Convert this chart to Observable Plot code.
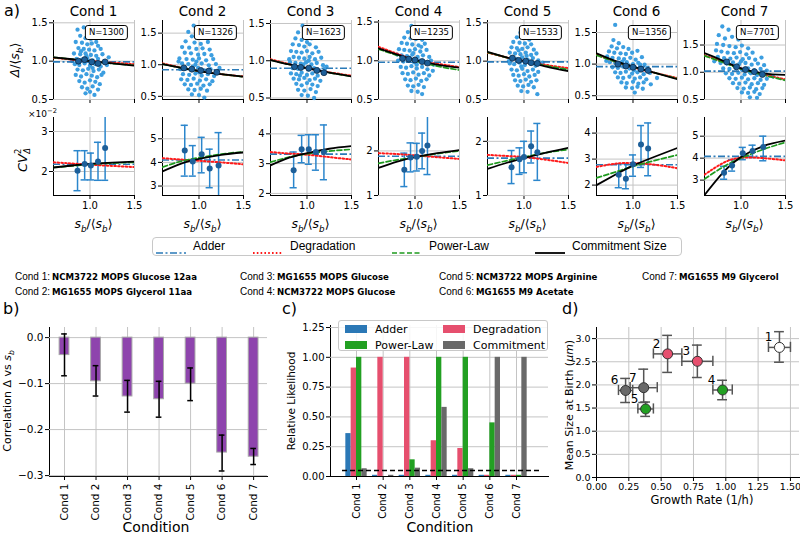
<!DOCTYPE html>
<html><head><meta charset="utf-8">
<script src="https://cdn.jsdelivr.net/npm/d3@7"></script>
<script src="https://cdn.jsdelivr.net/npm/@observablehq/plot@0.6"></script>
<style>
body{margin:0;background:#fff;}
#root{position:relative;width:800px;height:534px;overflow:hidden;font-family:"DejaVu Sans",sans-serif;color:#000;}
.lab{position:absolute;white-space:nowrap;line-height:1;}
</style></head>
<body><div id="root"></div>
<script>
// ---------------- DATA ----------------
const conds = [1,2,3,4,5,6,7];
const nCells = [1300,1326,1623,1235,1533,1356,7701];
const condNames = ["NCM3722 MOPS Glucose 12aa","MG1655 MOPS Glycerol 11aa","MG1655 MOPS Glucose","NCM3722 MOPS Glucose","NCM3722 MOPS Arginine","MG1655 M9 Acetate","MG1655 M9 Glycerol"];
const modelNames = ["Adder","Degradation","Power-Law","Commitment Size"];
const likeNames = ["Adder","Degradation","Power-Law","Commitment"];

// top row: Δ/<s_b> vs s_b/<s_b> (scatter)
const cloud1 = [[0.86,1.41],[0.93,1.44],[0.99,1.38],[1.04,1.35],[0.89,1.33],[0.95,1.30],[1.01,1.29],[1.07,1.31],[0.84,1.25],[0.91,1.24],[0.97,1.22],[1.02,1.23],[1.09,1.20],[0.87,1.17],[0.93,1.16],[0.99,1.15],[1.05,1.14],[1.12,1.16],[0.82,1.10],[0.89,1.09],[0.95,1.10],[1.01,1.08],[1.07,1.07],[1.14,1.09],[0.85,1.03],[0.91,1.02],[0.97,1.04],[1.03,1.01],[1.09,1.03],[1.16,1.00],[0.83,0.96],[0.88,0.95],[0.94,0.97],[1.00,0.94],[1.06,0.96],[1.12,0.93],[1.19,0.95],[0.86,0.89],[0.92,0.88],[0.98,0.90],[1.04,0.87],[1.10,0.89],[1.15,0.85],[0.84,0.82],[0.90,0.80],[0.96,0.83],[1.02,0.81],[1.08,0.79],[1.13,0.82],[0.88,0.74],[0.94,0.72],[1.00,0.75],[1.06,0.73],[1.11,0.70],[0.91,0.66],[0.97,0.64],[1.03,0.67],[1.09,0.63],[0.95,0.58],[1.05,0.56],[1.21,1.05],[0.80,1.00],[0.98,1.00],[0.96,1.07],[1.03,0.91],[0.90,1.13],[1.07,1.25],[1.00,0.60]];
const cloud2 = [[0.94,1.62],[0.88,1.52],[1.01,1.55],[0.92,1.45],[0.98,1.42],[1.06,1.44],[0.85,1.37],[0.95,1.35],[1.02,1.33],[1.10,1.36],[0.81,1.28],[0.89,1.27],[0.97,1.25],[1.04,1.26],[1.12,1.24],[0.84,1.19],[0.91,1.18],[0.99,1.16],[1.06,1.17],[1.14,1.15],[0.78,1.10],[0.86,1.09],[0.93,1.08],[1.00,1.10],[1.08,1.07],[1.16,1.09],[0.81,1.02],[0.88,1.01],[0.96,1.00],[1.03,1.02],[1.11,0.99],[1.19,1.01],[0.79,0.93],[0.85,0.94],[0.92,0.92],[0.99,0.95],[1.06,0.91],[1.13,0.93],[1.21,0.90],[0.82,0.85],[0.89,0.84],[0.96,0.86],[1.03,0.83],[1.10,0.85],[1.17,0.82],[0.80,0.77],[0.87,0.76],[0.94,0.78],[1.01,0.75],[1.08,0.77],[1.15,0.74],[0.84,0.69],[0.91,0.68],[0.98,0.70],[1.05,0.67],[1.12,0.69],[0.88,0.61],[0.95,0.60],[1.02,0.62],[1.09,0.59],[0.92,0.53],[1.00,0.52],[1.06,0.48],[1.23,0.95],[0.77,1.05],[0.97,1.05],[1.00,0.88],[0.93,0.97]];
const cloud3 = [[0.95,1.47],[0.90,1.38],[1.00,1.35],[0.87,1.30],[0.94,1.28],[1.05,1.30],[0.84,1.22],[0.91,1.21],[0.97,1.19],[1.03,1.22],[1.10,1.18],[0.82,1.13],[0.88,1.12],[0.94,1.11],[1.00,1.13],[1.06,1.10],[1.13,1.12],[0.85,1.05],[0.91,1.04],[0.97,1.03],[1.03,1.05],[1.09,1.02],[1.16,1.04],[0.81,0.98],[0.87,0.97],[0.93,0.96],[0.99,0.98],[1.05,0.95],[1.11,0.97],[1.18,0.94],[0.84,0.90],[0.90,0.89],[0.96,0.91],[1.02,0.88],[1.08,0.90],[1.14,0.87],[1.20,0.89],[0.82,0.83],[0.88,0.82],[0.94,0.84],[1.00,0.81],[1.06,0.83],[1.12,0.80],[0.85,0.76],[0.91,0.75],[0.97,0.77],[1.03,0.74],[1.09,0.76],[1.15,0.73],[0.88,0.69],[0.94,0.67],[1.00,0.70],[1.06,0.68],[1.12,0.66],[0.90,0.61],[0.97,0.60],[1.04,0.62],[1.10,0.58],[0.94,0.54],[1.01,0.53],[1.08,0.50],[1.22,0.92],[0.80,1.02],[0.96,0.95],[1.02,1.00],[0.92,0.80],[1.00,1.25]];
const cloud4 = [[0.96,1.45],[1.02,1.42],[0.92,1.37],[0.99,1.36],[1.06,1.34],[0.88,1.30],[0.95,1.29],[1.01,1.28],[1.08,1.27],[0.85,1.23],[0.91,1.22],[0.97,1.21],[1.04,1.20],[1.11,1.22],[0.82,1.15],[0.88,1.14],[0.94,1.13],[1.00,1.15],[1.06,1.12],[1.13,1.14],[0.85,1.07],[0.91,1.06],[0.97,1.08],[1.03,1.05],[1.09,1.07],[1.16,1.05],[0.81,1.00],[0.87,0.99],[0.93,1.01],[0.99,0.98],[1.05,1.00],[1.11,0.98],[1.18,1.00],[0.84,0.92],[0.90,0.91],[0.96,0.93],[1.02,0.90],[1.08,0.92],[1.14,0.89],[0.86,0.84],[0.92,0.83],[0.98,0.85],[1.04,0.82],[1.10,0.84],[1.16,0.81],[0.89,0.76],[0.95,0.75],[1.01,0.77],[1.07,0.74],[1.13,0.76],[0.92,0.68],[0.98,0.67],[1.04,0.69],[1.10,0.66],[0.96,0.61],[1.03,0.60],[1.08,0.57],[1.21,0.95],[0.80,1.08],[0.98,1.10],[1.02,0.95],[0.94,1.04],[1.07,1.18],[1.20,0.87]];
const cloud5 = [[0.96,1.37],[1.03,1.35],[0.92,1.31],[0.99,1.30],[1.06,1.28],[0.88,1.25],[0.95,1.24],[1.01,1.23],[1.08,1.22],[0.86,1.18],[0.92,1.17],[0.98,1.16],[1.04,1.18],[1.11,1.15],[0.84,1.11],[0.90,1.10],[0.96,1.09],[1.02,1.11],[1.08,1.08],[1.14,1.10],[0.86,1.04],[0.92,1.03],[0.98,1.05],[1.04,1.02],[1.10,1.04],[1.16,1.01],[0.84,0.97],[0.89,0.96],[0.95,0.98],[1.01,0.95],[1.07,0.97],[1.13,0.94],[1.19,0.96],[0.86,0.89],[0.92,0.88],[0.98,0.90],[1.04,0.87],[1.10,0.89],[1.16,0.86],[0.88,0.82],[0.94,0.81],[1.00,0.83],[1.06,0.80],[1.12,0.82],[0.90,0.75],[0.96,0.74],[1.02,0.76],[1.08,0.73],[1.14,0.75],[0.93,0.68],[0.99,0.67],[1.05,0.69],[1.11,0.66],[0.97,0.61],[1.04,0.60],[1.15,0.57],[0.83,1.00],[1.21,0.98],[1.00,1.00],[0.97,0.93],[1.03,1.07],[0.94,1.14]];
const cloud6 = [[0.78,1.38],[0.84,1.33],[0.76,1.28],[0.82,1.25],[0.89,1.27],[0.95,1.24],[0.73,1.20],[0.79,1.18],[0.86,1.17],[0.92,1.16],[0.99,1.18],[1.05,1.21],[0.71,1.12],[0.77,1.10],[0.84,1.09],[0.90,1.08],[0.97,1.10],[1.03,1.07],[1.10,1.11],[0.74,1.03],[0.80,1.02],[0.87,1.01],[0.93,1.03],[1.00,1.00],[1.06,1.02],[1.13,0.99],[0.77,0.95],[0.83,0.94],[0.89,0.96],[0.96,0.93],[1.02,0.95],[1.09,0.92],[1.16,0.94],[0.80,0.87],[0.86,0.86],[0.92,0.88],[0.99,0.85],[1.05,0.87],[1.12,0.84],[1.19,0.86],[0.83,0.79],[0.89,0.78],[0.96,0.80],[1.02,0.77],[1.08,0.79],[1.15,0.76],[0.87,0.71],[0.93,0.70],[1.00,0.72],[1.06,0.69],[1.12,0.71],[1.20,0.68],[0.92,0.63],[0.99,0.62],[1.05,0.64],[1.11,0.61],[1.02,0.55],[1.27,0.78],[0.70,1.05],[0.95,0.98],[0.88,1.04],[1.01,0.90],[1.08,0.99],[0.80,1.62]];
const cloud7 = [[0.79,1.84],[0.86,1.78],[0.75,1.68],[0.82,1.62],[0.90,1.65],[0.97,1.60],[0.73,1.52],[0.80,1.50],[0.87,1.48],[0.94,1.46],[1.01,1.49],[1.08,1.44],[0.72,1.40],[0.78,1.38],[0.85,1.36],[0.92,1.35],[0.99,1.37],[1.06,1.33],[1.13,1.36],[0.74,1.28],[0.81,1.26],[0.88,1.25],[0.95,1.27],[1.02,1.24],[1.09,1.26],[1.16,1.23],[1.23,1.27],[0.77,1.17],[0.84,1.16],[0.91,1.18],[0.98,1.15],[1.05,1.17],[1.12,1.14],[1.19,1.16],[1.26,1.13],[0.80,1.07],[0.87,1.06],[0.94,1.08],[1.01,1.05],[1.08,1.07],[1.15,1.04],[1.22,1.06],[1.29,1.03],[0.83,0.98],[0.90,0.97],[0.97,0.99],[1.04,0.96],[1.11,0.98],[1.18,0.95],[1.25,0.97],[1.32,0.94],[0.87,0.89],[0.94,0.88],[1.01,0.90],[1.08,0.87],[1.15,0.89],[1.22,0.86],[1.29,0.88],[0.91,0.80],[0.98,0.79],[1.05,0.81],[1.12,0.78],[1.19,0.80],[1.26,0.77],[0.96,0.71],[1.03,0.70],[1.10,0.72],[1.17,0.69],[1.24,0.71],[1.01,0.63],[1.08,0.62],[1.15,0.64],[1.21,0.60],[1.10,0.54],[1.18,0.53],[1.36,0.92],[0.70,1.20],[1.00,1.20],[1.10,1.00]];
const clouds = [cloud1,cloud2,cloud3,cloud4,cloud5,cloud6,cloud7];

const meansTop = [
  [[0.87,1.00],[0.94,1.02],[1.02,0.99],[1.09,0.97],[1.17,0.99]],
  [[0.83,0.95],[0.92,0.93],[1.02,0.91],[1.11,0.90],[1.20,0.88]],
  [[0.86,0.92],[0.93,0.91],[1.02,0.90],[1.11,0.87],[1.19,0.84]],
  [[0.86,1.03],[0.93,1.02],[1.00,1.01],[1.08,0.99],[1.14,0.97]],
  [[0.87,1.04],[0.94,1.01],[1.02,1.00],[1.08,0.98],[1.15,0.97]],
  [[0.83,1.00],[0.92,0.97],[1.00,0.95],[1.09,0.92],[1.17,0.90]],
  [[0.84,1.19],[0.95,1.10],[1.05,1.05],[1.15,1.01],[1.24,0.96]]
];
const topDomains = [[0.5,1.53],[0.45,1.70],[0.48,1.54],[0.5,1.52],[0.5,1.53],[0.44,1.69],[0.5,1.95]];

// model curves sampled at these s_b/<s_b> values
const modelX = [0.59,0.8,1.0,1.25,1.5];
const topAdder  = [0.99,0.92,0.90,0.98,0.99,0.96,1.02];
const topDeg    = [[1.045,1.02,1.0,0.98,0.96],[1.02,0.955,0.90,0.85,0.815],[1.02,0.955,0.90,0.845,0.80],[1.18,1.09,1.01,0.96,0.92],[1.11,1.05,1.0,0.95,0.91],[1.15,1.04,0.95,0.86,0.78],[1.31,1.19,1.07,0.96,0.87]];
const topPL     = [[1.05,1.025,1.0,0.97,0.945],[1.01,0.95,0.90,0.85,0.81],[1.01,0.95,0.90,0.84,0.79],[1.15,1.07,1.0,0.93,0.88],[1.115,1.05,1.0,0.94,0.89],[1.14,1.04,0.955,0.86,0.77],[1.30,1.18,1.06,0.95,0.85]];
const topCommit = [[1.05,1.025,1.0,0.97,0.94],[1.01,0.95,0.90,0.85,0.81],[1.01,0.95,0.90,0.84,0.79],[1.16,1.08,1.01,0.95,0.91],[1.12,1.05,1.0,0.93,0.87],[1.17,1.05,0.96,0.86,0.76],[1.35,1.21,1.07,0.98,0.95]];

// bottom row: CV^2 (x1e-2) binned [x, y, lo, hi]
const binsBottom = [
  [[0.86,2.02,1.52,2.52],[0.94,2.19,1.79,2.52],[1.01,2.15,1.79,2.46],[1.09,2.25,1.78,2.73],[1.17,2.59,1.78,3.6]],
  [[0.84,4.50,3.42,5.57],[0.93,4.04,3.42,4.71],[1.03,4.35,3.56,5.06],[1.12,3.74,2.93,4.56],[1.22,3.87,2.5,5.26]],
  [[0.85,2.78,2.19,3.39],[0.94,3.48,3.03,3.95],[1.02,3.48,2.98,3.97],[1.10,3.39,2.78,3.97],[1.19,3.39,2.46,4.30]],
  [[0.88,1.58,1.20,1.95],[0.95,1.85,1.53,2.18],[1.02,1.87,1.55,2.17],[1.08,2.00,1.60,2.40],[1.14,2.12,1.47,2.85]],
  [[0.86,1.52,1.22,1.83],[0.95,1.67,1.39,1.88],[1.00,1.71,1.42,2.00],[1.08,1.91,1.60,2.19],[1.15,1.80,1.28,2.33]],
  [[0.84,2.40,1.90,2.82],[0.92,2.24,1.86,2.82],[1.00,2.80,2.34,3.16],[1.09,3.56,2.68,4.29],[1.17,3.41,2.36,4.39]],
  [[0.81,3.34,3.04,3.63],[0.90,3.66,3.41,3.93],[1.02,4.22,3.93,4.49],[1.13,4.32,4.03,4.59],[1.25,4.51,3.88,5.00]]
];
const botDomains = [[1.4,3.35],[2.6,5.9],[1.93,4.55],[1.0,2.75],[1.0,2.44],[1.6,4.6],[2.3,5.85]];
const botTicks = [[2,3],[3,4,5],[2,3,4],[1,2],[1,2],[2,3,4],[3,4,5]];
const botAdder  = [2.18,4.10,3.32,1.88,1.69,2.78,4.08];
const botDeg    = [[2.23,2.20,2.17,2.14,2.11],[4.18,4.12,4.07,4.00,3.92],[3.39,3.34,3.30,3.22,3.14],[1.95,1.93,1.90,1.86,1.82],[1.75,1.73,1.71,1.66,1.60],[2.70,2.82,2.85,2.78,2.65],[3.25,3.78,4.02,4.00,3.90]];
const botPL     = [[2.10,2.14,2.18,2.21,2.23],[3.80,4.05,4.20,4.35,4.45],[3.05,3.22,3.33,3.42,3.48],[1.72,1.80,1.86,1.94,2.00],[1.56,1.64,1.71,1.79,1.85],[2.28,2.50,2.72,2.95,3.16],[3.05,3.60,4.00,4.40,4.72]];
const botCommit = [[2.10,2.15,2.19,2.22,2.25],[3.62,3.95,4.15,4.32,4.42],[2.94,3.20,3.35,3.50,3.59],[1.62,1.76,1.86,1.95,2.02],[1.49,1.60,1.69,1.79,1.88],[2.00,2.40,2.75,3.10,3.43],[2.32,3.35,4.05,4.55,4.80]];

// panel b: correlation Δ vs s_b
const corrValues = [-0.038,-0.095,-0.128,-0.134,-0.100,-0.250,-0.259];
const corrLo = [-0.083,-0.127,-0.162,-0.173,-0.137,-0.290,-0.276];
const corrHi = [0.008,-0.061,-0.093,-0.095,-0.066,-0.212,-0.241];

// panel c: relative likelihood
const likeAdder  = [0.36,0.01,0.01,0.01,0.01,0.01,0.01];
const likeDeg    = [0.91,1.00,1.00,0.30,0.235,0.01,0.01];
const likePL     = [1.00,0.00,0.14,1.00,1.00,0.45,0.01];
const likeCommit = [0.065,0.01,0.07,0.58,0.065,1.00,1.00];
const likeThreshold = 0.05;

// panel d
const growthRate = [1.415,0.55,0.78,0.975,0.38,0.225,0.365];
const growthLo   = [1.33,0.44,0.66,0.90,0.32,0.17,0.26];
const growthHi   = [1.50,0.66,0.90,1.05,0.44,0.28,0.47];
const sizeBirth  = [2.81,2.67,2.51,1.89,1.48,1.88,1.94];
const sizeLo     = [2.49,2.27,2.16,1.68,1.32,1.62,1.62];
const sizeHi     = [3.15,3.07,2.86,2.10,1.63,2.14,2.34];
const bestModel  = ["none","Degradation","Degradation","Power-Law","Power-Law","Commitment","Commitment"];

// ---------------- STYLE ----------------
const colModel = {"Adder":"#2b78b6","Degradation":"#e64f6e","Power-Law":"#22a022","Commitment":"#696969","none":"#ffffff"};
const LS = {
  adder:{stroke:"#2a7ab8",strokeWidth:1.6,strokeDasharray:"7,2.5,2,2.5"},
  deg:{stroke:"#ff1a1a",strokeWidth:2,strokeDasharray:"1.6,2.2"},
  pl:{stroke:"#1e9a1e",strokeWidth:1.7,strokeDasharray:"5,2.5"},
  commit:{stroke:"#000",strokeWidth:1.8}
};
const GRID = "#c4c4c4";
const root = document.getElementById("root");
function place(node,l,t){node.style.position="absolute";node.style.left=l+"px";node.style.top=t+"px";root.appendChild(node);return node;}
function lab(html,css){const d=document.createElement("div");d.className="lab";d.innerHTML=html;d.style.cssText+=css;root.appendChild(d);return d;}
function ctr(html,x,y,css="",rot=0){return lab(html,`left:${x}px;top:${y}px;transform:translate(-50%,-50%)${rot?` rotate(${rot}deg)`:""};`+css);}
function curve(ys){return modelX.map((x,j)=>({x,y:ys[j]}));}
function models(a,d,p,c){
  return [
    Plot.ruleY([a],LS.adder),
    Plot.line(curve(d),{x:"x",y:"y",curve:"natural",clip:true,...LS.deg}),
    Plot.line(curve(p),{x:"x",y:"y",curve:"natural",clip:true,...LS.pl}),
    Plot.line(curve(c),{x:"x",y:"y",curve:"natural",clip:true,...LS.commit})
  ];
}
const baseStyle = {fontFamily:"DejaVu Sans",fontSize:"10px",background:"transparent",overflow:"visible",color:"#000"};
const panelL = [53,162,270,378,487,596,704], PW = 81;

// ---------------- PANEL a ----------------
for(let i=0;i<7;i++){
  const ml=30,mr=4,mt=3,mb=8;
  const svg = Plot.plot({
    width:PW+ml+mr,height:79+mt+mb,marginLeft:ml,marginRight:mr,marginTop:mt,marginBottom:mb,
    style:baseStyle,
    x:{domain:[0.59,1.5],ticks:[1,1.5],tickFormat:()=>"",tickSize:4,line:true,label:null},
    y:{domain:topDomains[i],ticks:[0.5,1,1.5],tickFormat:".1f",tickSize:4,tickPadding:2,line:true,label:null},
    marks:[
      Plot.ruleX([1,1.5],{stroke:GRID}),
      Plot.ruleY([0.5,1,1.5],{stroke:GRID}),
      Plot.dot(clouds[i],{x:d=>d[0],y:d=>d[1],r:2.15,fill:"#3c9ee0",stroke:"none"}),
      ...models(topAdder[i],topDeg[i],topPL[i],topCommit[i]),
      Plot.dot(meansTop[i],{x:d=>d[0],y:d=>d[1],r:3,fill:"#1d5f99",stroke:"#0b2a48",strokeWidth:0.8})
    ]
  });
  place(svg,panelL[i]-ml,20-mt);
  ctr("Cond "+conds[i],panelL[i]+PW/2,12,"font-size:13.5px;");
  lab("N="+nCells[i],`left:${panelL[i]+PW-6}px;top:25px;transform:translateX(-100%);font-size:8.5px;border:1.2px solid #000;border-radius:3px;padding:2px 3px;background:#fff;`);

  const svg2 = Plot.plot({
    width:PW+ml+mr,height:78+mt+18,marginLeft:ml,marginRight:mr,marginTop:mt,marginBottom:18,
    style:baseStyle,
    x:{domain:[0.59,1.5],ticks:[1,1.5],tickFormat:".1f",tickSize:4,tickPadding:2,line:true,label:null},
    y:{domain:botDomains[i],ticks:botTicks[i],tickFormat:"d",tickSize:4,tickPadding:2,line:true,label:null},
    marks:[
      Plot.ruleX([1,1.5],{stroke:GRID}),
      Plot.ruleY(botTicks[i],{stroke:GRID}),
      Plot.ruleX(binsBottom[i],{x:d=>d[0],y1:d=>d[2],y2:d=>d[3],stroke:"#2b86cc",strokeWidth:1.5,clip:true}),
      Plot.ruleY(binsBottom[i],{y:d=>d[2],x1:d=>d[0]-0.04,x2:d=>d[0]+0.04,stroke:"#2b86cc",strokeWidth:1.5,clip:true}),
      Plot.ruleY(binsBottom[i],{y:d=>d[3],x1:d=>d[0]-0.04,x2:d=>d[0]+0.04,stroke:"#2b86cc",strokeWidth:1.5,clip:true}),
      ...models(botAdder[i],botDeg[i],botPL[i],botCommit[i]),
      Plot.dot(binsBottom[i],{x:d=>d[0],y:d=>d[1],r:3,fill:"#1d5f99",stroke:"none"})
    ]
  });
  place(svg2,panelL[i]-ml,117-mt);
  ctr("<i>s<sub style='font-size:70%'>b</sub></i>/⟨<i>s<sub style='font-size:70%'>b</sub></i>⟩",panelL[i]+PW/2,226,"font-size:12.5px;");
}
lab("a)","left:4px;top:3px;font-size:16px;");
ctr("<i>Δ</i>/⟨<i>s<sub style='font-size:70%'>b</sub></i>⟩",17,60,"font-size:12.5px;",-90);
ctr("<i>CV</i><sup style='font-size:65%'>2</sup><sub style='font-size:65%;margin-left:-5px'><i>Δ</i></sub>",23,160,"font-size:13px;",-90);
lab("×10<sup style='font-size:75%'>−2</sup>","left:28px;top:108px;font-size:9px;");

// legend row
lab("",`left:152px;top:237px;width:530px;height:19px;border:1px solid #c8c8c8;border-radius:4px;box-sizing:border-box;`);
const legStyles = [LS.adder,LS.deg,LS.pl,LS.commit];
const legX = [156,253,392,535];
modelNames.forEach((n,k)=>{
  const s=legStyles[k];
  lab(`<svg width="30" height="6"><line x1="0" y1="3" x2="30" y2="3" stroke="${s.stroke}" stroke-width="${s.strokeWidth}" ${s.strokeDasharray?`stroke-dasharray="${s.strokeDasharray}"`:""}/></svg>`,`left:${legX[k]}px;top:243px;`);
  lab(n,`left:${legX[k]+37}px;top:240px;font-family:'Liberation Sans';font-size:12px;`);
});
// condition names
const cnX = [15,15,240,240,439,439,642], cnY = [267,282,267,282,267,282,267];
conds.forEach((c,i)=>{
  lab(`<span style="font-family:'Liberation Sans';font-size:10px">Cond ${c}:</span><span style="font-weight:bold;font-size:8.6px;margin-left:2px">${condNames[i]}</span>`,`left:${cnX[i]}px;top:${cnY[i]}px;`);
});

// ---------------- PANEL b ----------------
const bData = conds.map((c,i)=>({i:c,v:corrValues[i],lo:corrLo[i],hi:corrHi[i]}));
{
  const ml=45,mr=6,mt=5,mb=40;
  const svg = Plot.plot({
    width:218+ml+mr,height:149+mt+mb,marginLeft:ml,marginRight:mr,marginTop:mt,marginBottom:mb,
    style:{...baseStyle,fontSize:"10.5px"},
    x:{domain:[0.524,7.44],ticks:conds,tickFormat:d=>"Cond "+d,tickRotate:-90,tickSize:4,tickPadding:3,line:true,label:null},
    y:{domain:[-0.302,0.022],ticks:[0,-0.1,-0.2,-0.3],tickFormat:".1f",tickSize:4,tickPadding:2,line:true,label:null},
    marks:[
      Plot.ruleX(conds,{stroke:GRID}),
      Plot.ruleY([0,-0.1,-0.2,-0.3],{stroke:GRID}),
      Plot.rect(bData,{x1:d=>d.i-0.155,x2:d=>d.i+0.155,y1:0,y2:"v",fill:"#8e44ad",stroke:"#a8a8a8",strokeWidth:1}),
      Plot.ruleX(bData,{x:"i",y1:"lo",y2:"hi",stroke:"#000",strokeWidth:1.5}),
      Plot.ruleY(bData,{y:"lo",x1:d=>d.i-0.09,x2:d=>d.i+0.09,stroke:"#000",strokeWidth:1.5}),
      Plot.ruleY(bData,{y:"hi",x1:d=>d.i-0.09,x2:d=>d.i+0.09,stroke:"#000",strokeWidth:1.5})
    ]
  });
  place(svg,49-ml,327-mt);
}
lab("b)","left:3px;top:301px;font-size:16px;");
ctr("Correlation Δ vs <i>s<sub style='font-size:70%'>b</sub></i>",9,401,"font-size:11px;",-90);
ctr("Condition",156,527,"font-size:14px;");

// ---------------- PANEL c ----------------
const likeSeries = [likeAdder,likeDeg,likePL,likeCommit];
const likeOffsets = [-0.3,-0.1,0.1,0.3];
const likeColors = [colModel["Adder"],colModel["Degradation"],colModel["Power-Law"],colModel["Commitment"]];
const cData = [];
conds.forEach((c,i)=>likeSeries.forEach((s,k)=>cData.push({i:c,k,v:s[i]})));
{
  const ml=45,mr=4,mt=5,mb=40;
  const svg = Plot.plot({
    width:218+ml+mr,height:151+mt+mb,marginLeft:ml,marginRight:mr,marginTop:mt,marginBottom:mb,
    style:baseStyle,
    x:{domain:[0.025,8.2],ticks:conds,tickFormat:d=>"Cond "+d,tickRotate:-90,tickSize:4,tickPadding:3,line:true,label:null},
    y:{domain:[0,1.267],ticks:[0,0.25,0.5,0.75,1,1.25],tickFormat:".2f",tickSize:4,tickPadding:2,line:true,label:null},
    marks:[
      Plot.ruleX(conds,{stroke:GRID}),
      Plot.ruleY([0.25,0.5,0.75,1,1.25],{stroke:GRID}),
      Plot.rect(cData,{x1:d=>d.i+likeOffsets[d.k]-0.1,x2:d=>d.i+likeOffsets[d.k]+0.1,y1:0,y2:"v",fill:d=>likeColors[d.k]}),
      Plot.ruleY([likeThreshold],{x1:0.475,x2:7.97,stroke:"#000",strokeWidth:1.5,strokeDasharray:"5,3"})
    ]
  });
  place(svg,330-ml,325-mt);
}
lab("c)","left:282px;top:301px;font-size:16px;");
ctr("Relative Likelihood",291,401,"font-size:10.5px;",-90);
ctr("Condition",440,527,"font-size:14px;");
lab("",`left:338px;top:320px;width:210px;height:31px;border:1px solid #c8c8c8;border-radius:3px;box-sizing:border-box;background:rgba(255,255,255,0.85);`);
const cLegPos = [[345,324],[443,324],[345,340],[443,340]]; // Adder, Degradation, Power-Law, Commitment
[0,1,2,3].forEach((k,j)=>{
  const [x,y]=cLegPos[j];
  lab(`<div style="width:22px;height:8px;background:${likeColors[k]}"></div>`,`left:${x}px;top:${y+1}px;`);
  lab(likeNames[k],`left:${x+30}px;top:${y}px;font-size:11px;`);
});

// ---------------- PANEL d ----------------
const dData = conds.map((c,i)=>({c:String(c),gr:growthRate[i],gl:growthLo[i],gh:growthHi[i],s:sizeBirth[i],sl:sizeLo[i],sh:sizeHi[i],f:colModel[bestModel[i]]}));
{
  const ml=40,mr=1,mt=5,mb=32;
  const eb = {stroke:"#555",strokeWidth:1.5};
  const svg = Plot.plot({
    width:203+ml+mr,height:150+mt+mb,marginLeft:ml,marginRight:mr,marginTop:mt,marginBottom:mb,
    style:{...baseStyle,fontSize:"9.5px"},
    x:{domain:[0,1.57],ticks:[0,0.25,0.5,0.75,1,1.25,1.5],tickFormat:".2f",tickSize:4,tickPadding:2,line:true,label:null},
    y:{domain:[0,3.24],ticks:[0,0.5,1,1.5,2,2.5,3],tickFormat:".1f",tickSize:4,tickPadding:2,line:true,label:null},
    marks:[
      Plot.ruleX([0.25,0.5,0.75,1,1.25,1.5],{stroke:GRID}),
      Plot.ruleY([0.5,1,1.5,2,2.5,3],{stroke:GRID}),
      Plot.ruleX(dData,{x:"gr",y1:"sl",y2:"sh",...eb}),
      Plot.ruleY(dData,{y:"sl",x1:d=>d.gr-0.038,x2:d=>d.gr+0.038,...eb}),
      Plot.ruleY(dData,{y:"sh",x1:d=>d.gr-0.038,x2:d=>d.gr+0.038,...eb}),
      Plot.ruleY(dData,{y:"s",x1:"gl",x2:"gh",...eb}),
      Plot.ruleX(dData,{x:"gl",y1:d=>d.s-0.11,y2:d=>d.s+0.11,...eb}),
      Plot.ruleX(dData,{x:"gh",y1:d=>d.s-0.11,y2:d=>d.s+0.11,...eb}),
      Plot.dot(dData,{x:"gr",y:"s",r:5,fill:"f",stroke:"#333",strokeWidth:1}),
      Plot.text(dData,{x:"gr",y:"s",text:"c",dx:-11,dy:-10,fontSize:12})
    ]
  });
  place(svg,596-ml,327-mt);
}
lab("d)","left:562px;top:301px;font-size:16px;");
ctr("Mean Size at Birth (<i>μm</i>)",569,405,"font-size:11px;",-90);
ctr("Growth Rate (1/h)",702,501,"font-size:11.5px;");
</script></body></html>
